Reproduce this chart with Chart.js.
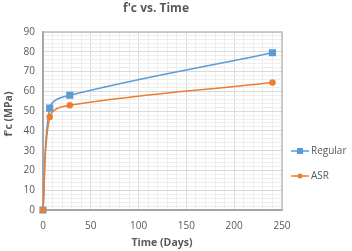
<!DOCTYPE html>
<html>
<head>
<meta charset="utf-8">
<script src="https://cdn.jsdelivr.net/npm/chart.js@4.4.1/dist/chart.umd.min.js"></script>
<style>
  html, body { margin: 0; padding: 0; background: #fff; }
  #wrap { width: 352px; height: 251px; }
</style>
</head>
<body>
<div id="wrap"><canvas id="chart-fc-element"></canvas></div>
<script>
const days = [0, 7, 28, 240];
const regular = [0, 51.5, 58, 79.5];
const asr = [0, 47, 53, 64.5];

const xTicks = [0, 50, 100, 150, 200, 250];
const yTicks = [0, 10, 20, 30, 40, 50, 60, 70, 80, 90];

const font = "'Open Sans', 'DejaVu Sans', sans-serif";

// title, axis titles, plot border and legend are drawn by hand, like Excel lays them out
const extras = {
    id: "extras",
    afterDatasetsDraw(chart) {
        const { ctx, chartArea } = chart;
        ctx.save();
        ctx.strokeStyle = "#bfbfbf";
        ctx.lineWidth = 1.5;
        ctx.beginPath();
        ctx.moveTo(chartArea.left, chartArea.top);
        ctx.lineTo(chartArea.right, chartArea.top);
        ctx.lineTo(chartArea.right, chartArea.bottom);
        ctx.stroke();

        ctx.fillStyle = "#595959";
        ctx.textAlign = "center";
        ctx.textBaseline = "middle";
        ctx.font = "bold 12px " + font;
        ctx.fillText("f'c vs. Time", 156, 9);

        ctx.font = "bold 10.5px " + font;
        ctx.fillText("Time (Days)", 162, 243);

        ctx.save();
        ctx.translate(9, 114);
        ctx.rotate(-Math.PI / 2);
        ctx.fillText("f'c (MPa)", 0, 0);
        ctx.restore();

        ctx.font = "10px " + font;
        ctx.textAlign = "left";
        chart.data.datasets.forEach((ds, i) => {
            const y = 151 + i * 25;
            ctx.strokeStyle = ds.borderColor;
            ctx.lineWidth = 1.5;
            ctx.beginPath();
            ctx.moveTo(291, y);
            ctx.lineTo(309, y);
            ctx.stroke();
            ctx.fillStyle = ds.pointBackgroundColor;
            if (ds.pointStyle === "rect") {
                ctx.fillRect(297, y - 3, 6, 6);
            } else {
                ctx.beginPath();
                ctx.arc(300, y, 2.5, 0, Math.PI * 2);
                ctx.fill();
            }
            ctx.fillStyle = "#595959";
            ctx.fillText(ds.label, 311, y);
        });
        ctx.restore();
    },
};

const ctx = document.getElementById("chart-fc-element").getContext("2d");

const chart = new Chart(ctx, {
    type: "line",
    data: {
        datasets: [
            {
                label: "Regular",
                data: days.map((d, i) => ({ x: d, y: regular[i] })),
                borderColor: "#5b9bd5",
                backgroundColor: "#5b9bd5",
                pointBackgroundColor: "#5b9bd5",
                pointBorderColor: "#5b9bd5",
                pointStyle: "rect",
                pointRadius: 4,
                borderWidth: 1.5,
                tension: 0.4,
                clip: 6,
                order: 2,
            },
            {
                label: "ASR",
                data: days.map((d, i) => ({ x: d, y: asr[i] })),
                borderColor: "#ed7d31",
                backgroundColor: "#ed7d31",
                pointBackgroundColor: "#ed7d31",
                pointBorderColor: "#ed7d31",
                pointStyle: "circle",
                pointRadius: 2.5,
                borderWidth: 1.5,
                tension: 0.4,
                clip: 6,
                order: 1,
            },
        ],
    },
    options: {
        responsive: true,
        maintainAspectRatio: false,
        animation: false,
        layout: {
            padding: { top: 32, right: 70, bottom: 0, left: 0 },
        },
        plugins: {
            legend: { display: false },
            tooltip: { enabled: false },
        },
        scales: {
            x: {
                type: "linear",
                min: 0,
                max: 250,
                afterBuildTicks: (s) => {
                    const t = [];
                    for (let v = 0; v <= 250; v += 10) t.push({ value: v });
                    s.ticks = t;
                },
                afterFit: (s) => { s.height = 41; },
                ticks: {
                    autoSkip: false,
                    maxRotation: 0,
                    color: "#595959",
                    font: { family: font, size: 10 },
                    padding: 10,
                    callback: (v) => (xTicks.includes(v) ? v : ""),
                },
                grid: {
                    drawTicks: false,
                    color: (c) => (c.tick && c.tick.value % 50 === 0 ? "#d9d9d9" : "#eeeeee"),
                },
                border: { color: "#a6a6a6", width: 2 },
            },
            y: {
                min: 0,
                max: 90,
                afterBuildTicks: (s) => {
                    const t = [];
                    for (let v = 0; v <= 90; v += 2) t.push({ value: v });
                    s.ticks = t;
                },
                afterFit: (s) => { s.width = 43; },
                ticks: {
                    autoSkip: false,
                    color: "#595959",
                    font: { family: font, size: 10 },
                    padding: 8,
                    callback: (v) => (yTicks.includes(v) ? v : ""),
                },
                grid: {
                    drawTicks: false,
                    color: (c) => (c.tick && c.tick.value % 10 === 0 ? "#d9d9d9" : "#eeeeee"),
                },
                border: { color: "#a6a6a6", width: 2 },
            },
        },
    },
    plugins: [extras],
});
</script>
</body>
</html>
